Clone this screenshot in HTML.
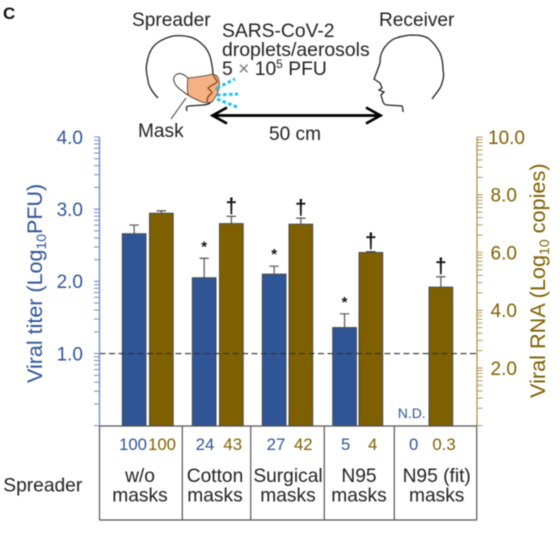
<!DOCTYPE html>
<html>
<head>
<meta charset="utf-8">
<style>
html,body{margin:0;padding:0;background:#fff;width:560px;height:538px;overflow:hidden}
svg{display:block;filter:blur(0.45px)}
text{font-family:"Liberation Sans",sans-serif}
</style>
</head>
<body>
<svg id="chart" xmlns="http://www.w3.org/2000/svg" width="560" height="538" viewBox="0 0 560 538">
  <text x="3" y="19" font-size="17" font-weight="bold" fill="#111">C</text>

  <g fill="none">
    <path d="M158 98 C152 92 148 85 148 80 C146 72 146 66 147 63 C148 55 150 51 153 47 C158 41 165 38 173 36 C180 35 185 36 190 37 C197 39 201 43 205 47 C208 51 210 55 211 60 C212 65 213 70 213 74" stroke="#222" stroke-width="1.3"/>
    <path d="M187 111 C186 108 186 106 189 106 L203 105 C206 105 209 104 211 102" stroke="#222" stroke-width="1.3"/>
    <path d="M188 78 C184 74 180 73 177 74 C174 76 173 79 174 81 C175 85 178 88 181 90 C184 92 186 94 188 95" fill="#fff" stroke="#333" stroke-width="1"/>
    <path d="M188 78 C197 77 206 76 213 74 C217 75 219 78 219 81 C220 85 219 89 218 92 C216 96 214 100 212 102 C208 103 205 103 202 102 C197 100 192 98 188 95 C187 89 187 84 188 78 Z" fill="#f4b183" stroke="#443322" stroke-width="0.8"/>
    <path d="M213 75 C215 78 217 80 217 82 C214 85 211 85 208 88 C209 90 212 91 212 93 C209 95 207 97 207 102" stroke="#843c0c" stroke-width="1.2"/>
    <circle cx="217" cy="89" r="1.8" fill="#7f9f8f"/>
    <path d="M186 98 L171 119" stroke="#333" stroke-width="1"/>
    <g stroke="#19c3ee" stroke-width="3" stroke-dasharray="3.5 2.5">
      <path d="M217 88 L235 79"/>
      <path d="M217 95 L238 94"/>
      <path d="M217 99 L237 107"/>
    </g>
    <path d="M432 99 C437 92 441 88 442 83 C444 78 444 74 443 70 C443 63 442 58 440 53 C437 47 433 42 428 38 C422 35 416 35 410 35 C403 36 397 37 392 40 C388 43 384 47 382 52 C380 56 380 60 380 63 C378 69 376 74 374 79 L380 83 L382 88 L379 90 L384 92 L381 95 L383 102 C384 104 385 105 387 105 L402 106 C403 108 403 110 403 112" stroke="#222" stroke-width="1.3"/>
    <path d="M213 115.5 L380 115.5 M227 107.5 L212.5 115.5 L227 123.5 M366 107.5 L380.5 115.5 L366 123.5" stroke="#000" stroke-width="2.7"/>
  </g>
  <text x="132" y="26" font-size="19.1" fill="#222">Spreader</text>
  <text x="379" y="26" font-size="19.1" fill="#222">Receiver</text>
  <text x="222" y="37" font-size="19.3" fill="#222">SARS-CoV-2</text>
  <text x="222" y="56" font-size="19.4" fill="#222">droplets/aerosols</text>
  <text x="222" y="75" font-size="19.3" fill="#222">5 <tspan fill="#777">×</tspan> 10<tspan font-size="12" dy="-7">5</tspan><tspan dy="7"> PFU</tspan></text>
  <text x="138" y="137" font-size="19.1" fill="#222">Mask</text>
  <text x="269" y="140" font-size="19.1" fill="#222">50 cm</text>

  <text transform="translate(42,383) rotate(-90)" font-size="21.5" fill="#2f5597">Viral titer (Log<tspan font-size="14" dy="4">10</tspan><tspan dy="-4">PFU)</tspan></text>
  <text transform="translate(545,398) rotate(-90)" font-size="21.7" fill="#7f6000">Viral RNA (Log<tspan font-size="14" dy="4">10</tspan><tspan dy="-4"> copies)</tspan></text>

  <g id="plot"></g>

  <g stroke="#555" stroke-width="1.2">
    <path d="M99.5 426 H477"/>
    <path d="M99.5 520 H477"/>
    <path d="M99.5 426 V520 M182.3 426 V520 M250.7 426 V520 M324.3 426 V520 M394.3 426 V520 M476.7 426 V520"/>
  </g>

  <g font-size="16.8" fill="#2f5597" text-anchor="middle">
    <text x="133" y="450">100</text>
    <text x="205" y="450">24</text>
    <text x="276" y="450">27</text>
    <text x="345.7" y="450">5</text>
    <text x="413.7" y="450">0</text>
  </g>
  <g font-size="16.8" fill="#7f6000" text-anchor="middle">
    <text x="162" y="450">100</text>
    <text x="232.7" y="450">43</text>
    <text x="303.3" y="450">42</text>
    <text x="372.7" y="450">4</text>
    <text x="444" y="450">0.3</text>
  </g>
  <g font-size="19.2" fill="#222" text-anchor="middle">
    <text x="140" y="482">w/o</text>
    <text x="140" y="501.7">masks</text>
    <text x="215" y="482">Cotton</text>
    <text x="215" y="501.7">masks</text>
    <text x="288" y="482">Surgical</text>
    <text x="288" y="501.7">masks</text>
    <text x="359" y="482">N95</text>
    <text x="359" y="501.7">masks</text>
    <text x="436.7" y="482">N95 (fit)</text>
    <text x="436.7" y="501.7">masks</text>
  </g>
  <text x="3.3" y="491.7" font-size="19.2" fill="#222">Spreader</text>
</svg>
<script>
var categories = ['w/o masks', 'Cotton masks', 'Surgical masks', 'N95 masks', 'N95 (fit) masks'];
var titerValues = [2.66, 2.05, 2.10, 1.36, null];
var titerErrors = [0.12, 0.27, 0.11, 0.19, null];
var rnaValues = [7.36, 7.00, 6.98, 6.00, 4.80];
var rnaErrors = [0.08, 0.25, 0.21, 0.03, 0.36];
var titerStars = [false, true, true, true, false];
var rnaDaggers = [false, true, true, true, true];
var leftTickLabels = ['1.0', '2.0', '3.0', '4.0'];
var rightTickLabels = ['2.0', '4.0', '6.0', '8.0', '10.0'];
var detectionLimit = 1.0;

var NS = 'http://www.w3.org/2000/svg';
var plot = document.getElementById('plot');
var Y0 = 425.7, Y1 = 137, LX = 99.5, RX = 477;
function yLeft(v) { return Y0 - (v / 4) * (Y0 - Y1); }
function yRight(v) { return Y0 - (v / 10) * (Y0 - Y1); }
function blueX(i) { return [122.3, 192.3, 262.3, 332.7, 402.7][i]; }
function brownX(i) { return [149.5, 219.5, 289, 359, 429][i]; }
var BW = 23.7;

function make(tag, attrs) {
  var el = document.createElementNS(NS, tag);
  for (var k in attrs) el.setAttribute(k, attrs[k]);
  plot.appendChild(el);
  return el;
}

function drawBar(x, top, errTop, color) {
  var stem = make('path', {d: 'M' + (x + BW / 2) + ' ' + top + ' V' + errTop + ' M' + (x + BW / 2 - 4.7) + ' ' + errTop + ' H' + (x + BW / 2 + 4.7), stroke: '#555', 'stroke-width': 1.2, fill: 'none'});
  
  
  var r = make('rect', {x: x, y: top, width: BW, height: Y0 - top, fill: color, stroke: '#4a4a4a', 'stroke-width': 1});
  
  
}

categories.forEach(function (c, i) {
  if (titerValues[i] !== null) {
    drawBar(blueX(i), yLeft(titerValues[i]), yLeft(titerValues[i] + titerErrors[i]), '#2f5597');
    if (titerStars[i]) {
      var s = make('text', {x: blueX(i) + BW / 2, y: yLeft(titerValues[i] + titerErrors[i]) - 7, 'font-size': 15, 'font-weight': 'bold', fill: '#111', 'text-anchor': 'middle'});
      s.textContent = '*';
      
      
    }
  }
  drawBar(brownX(i), yRight(rnaValues[i]), yRight(rnaValues[i] + rnaErrors[i]), '#7f6000');
  if (rnaDaggers[i]) {
    var d = make('text', {x: brownX(i) + BW / 2, y: yRight(rnaValues[i] + rnaErrors[i]) - 3.5, 'font-size': 21, 'font-weight': 'bold', fill: '#111', 'text-anchor': 'middle'});
    d.textContent = '†';
    
    
  }
});

var nd = make('text', {x: 397.7, y: 418, 'font-size': 14, fill: '#2f5597'});
nd.textContent = 'N.D.';



var limit = make('line', {x1: LX, x2: RX, y1: yLeft(detectionLimit), y2: yLeft(detectionLimit), stroke: '#333', 'stroke-width': 1.1, 'stroke-dasharray': '6 3.5'});



var leftAxis = make('line', {x1: LX, x2: LX, y1: Y1, y2: Y0, stroke: '#6f8fc9', 'stroke-width': 1.4});


var rightAxis = make('line', {x1: RX, x2: RX, y1: Y1, y2: Y0, stroke: '#b39a58', 'stroke-width': 1.4});



for (var dec = 0; dec < 4; dec++) {
  for (var k = 1; k <= 10; k++) {
    var lv = dec + Math.log10(k);
    var lt = make('line', {x1: LX - 5.5, x2: LX, y1: yLeft(lv), y2: yLeft(lv), stroke: '#6f8fc9', 'stroke-width': 1});
    
    
  }
}
for (var dr = 0; dr < 5; dr++) {
  for (var m = 1; m <= 10; m++) {
    var rv = 2 * (dr + Math.log10(m));
    var rt = make('line', {x1: RX, x2: RX + 5.5, y1: yRight(rv), y2: yRight(rv), stroke: '#b39a58', 'stroke-width': 1});
    
    
  }
}

leftTickLabels.forEach(function (t) {
  var el = make('text', {x: 83, y: yLeft(parseFloat(t)) + 6.8, 'font-size': 19, fill: '#2f5597', 'text-anchor': 'end'});
  el.textContent = t;
  
  
});
rightTickLabels.forEach(function (t) {
  var el = make('text', {x: t.length > 3 ? 488 : 490.5, y: yRight(parseFloat(t)) + 6.8, 'font-size': 19, fill: '#7f6000'});
  el.textContent = t;
  
  
});
</script>
</body>
</html>
